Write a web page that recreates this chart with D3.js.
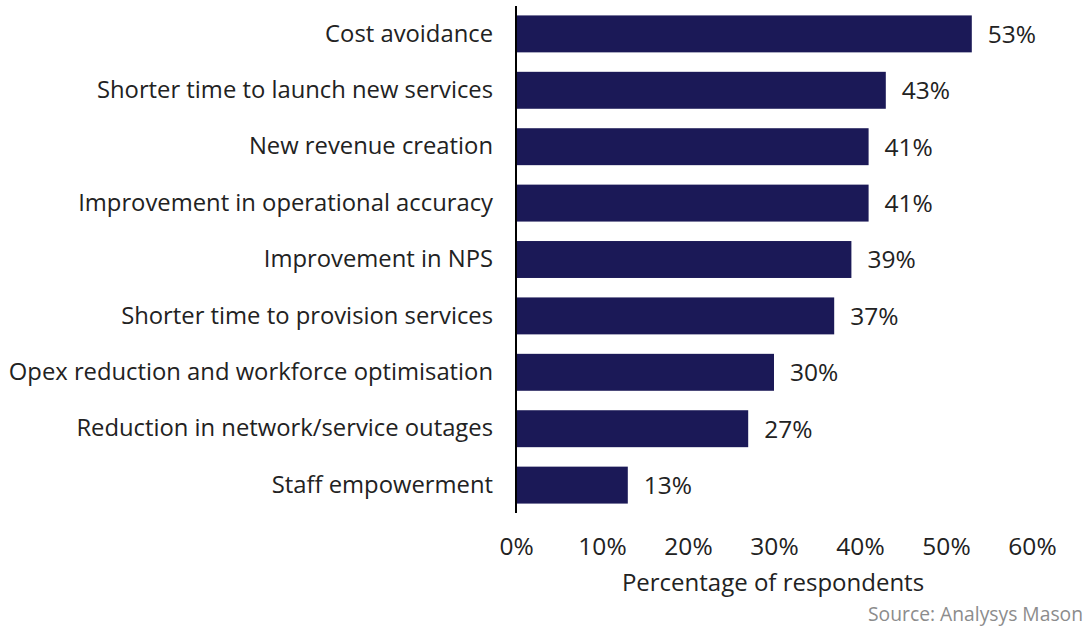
<!DOCTYPE html>
<html>
<head>
<meta charset="utf-8">
<script src="https://cdn.jsdelivr.net/npm/d3@7"></script>
<style>
  html, body { margin: 0; padding: 0; background: #ffffff; }
  svg { display: block; font-family: "Open Sans", "Liberation Sans", sans-serif; }
</style>
</head>
<body>
<svg id="chart" width="1090" height="630"></svg>
<script>
// Benefits ranked by share of respondents
const categories = [
  "Cost avoidance",
  "Shorter time to launch new services",
  "New revenue creation",
  "Improvement in operational accuracy",
  "Improvement in NPS",
  "Shorter time to provision services",
  "Opex reduction and workforce optimisation",
  "Reduction in network/service outages",
  "Staff empowerment"
];
const values = [53, 43, 41, 41, 39, 37, 30, 27, 13];
const tickValues = [0, 10, 20, 30, 40, 50, 60];
const axisTitle = "Percentage of respondents";
const sourceNote = "Source: Analysys Mason";

const svg = d3.select("#chart");
const barColor = "#1b1957";
const textColor = "#222222";
const fontStack = "\"Open Sans\", \"Liberation Sans\", sans-serif";

const x = d3.scaleLinear().domain([0, 60]).range([516, 1032]);
const y = d3.scaleBand()
  .domain(categories)
  .range([6, 513])
  .paddingInner(0.345)
  .paddingOuter(0.167);

// bars
svg.append("g")
  .selectAll("rect")
  .data(values)
  .join("rect")
  .attr("x", x(0))
  .attr("y", (d, i) => y(categories[i]))
  .attr("width", d => x(d) - x(0))
  .attr("height", y.bandwidth())
  .attr("fill", barColor);

// value labels
svg.append("g")
  .selectAll("text")
  .data(values)
  .join("text")
  .attr("x", d => x(d) + 16)
  .attr("y", (d, i) => y(categories[i]) + y.bandwidth() / 2)
  .attr("dy", "0.36em")
  .attr("font-size", 24.5)
  .attr("fill", textColor)
  .text(d => d + "%");

// category axis (labels only, plus the vertical baseline)
const yAxis = svg.append("g")
  .attr("transform", `translate(${x(0)},0)`)
  .call(d3.axisLeft(y).tickSize(0).tickPadding(23));
yAxis.select(".domain").remove();
yAxis.selectAll("text")
  .attr("font-size", 23.8)
  .attr("font-family", fontStack)
  .attr("fill", textColor);

svg.append("line")
  .attr("x1", x(0)).attr("x2", x(0))
  .attr("y1", 6).attr("y2", 513)
  .attr("stroke", "#000").attr("stroke-width", 2);

// value axis (tick labels only)
const xAxis = svg.append("g")
  .attr("transform", "translate(0,538)")
  .call(d3.axisBottom(x).tickValues(tickValues).tickSize(0).tickPadding(0)
    .tickFormat(d => d + "%"));
xAxis.select(".domain").remove();
xAxis.selectAll("text")
  .attr("font-size", 24.5)
  .attr("font-family", fontStack)
  .attr("fill", textColor);

svg.append("text")
  .attr("x", 773)
  .attr("y", 591)
  .attr("text-anchor", "middle")
  .attr("font-size", 24)
  .attr("fill", textColor)
  .text(axisTitle);

svg.append("text")
  .attr("x", 1083)
  .attr("y", 621)
  .attr("text-anchor", "end")
  .attr("font-size", 19.3)
  .attr("fill", "#8c8c8c")
  .text(sourceNote);
</script>
</body>
</html>
